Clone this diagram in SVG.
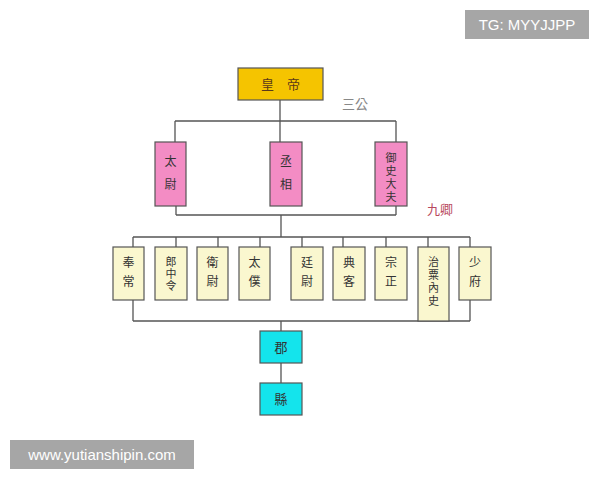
<svg xmlns="http://www.w3.org/2000/svg" width="600" height="480" viewBox="0 0 600 480">
<style>
.box{stroke:#555;stroke-width:1.2}
.gold{fill:#F5C400}
.pink{fill:#F38CC4}
.yel{fill:#FAF7CF}
.cyan{fill:#14E4EC}
.t{font-family:"Noto Sans CJK TC","Noto Sans CJK SC",sans-serif;font-size:12px;fill:#333;text-anchor:middle}
.s{font-size:11px}
.xs{font-size:10px}
.ln{stroke:#555;stroke-width:1.3;fill:none}
.wm{fill:#A6A6A6}
.wt{font-family:"Liberation Sans",Arial,sans-serif;font-size:15px;fill:#fff;text-anchor:middle}
</style>
<rect width="600" height="480" fill="#fff"/>
<g id="connectors">
<path class="ln" d="M280,100V121M175,121H396M175,121V142M280,121V142M396,121V142"/>
<path class="ln" d="M176,206V215M396,206V215M176,215H396M281,215V237M133,237H470"/>
<path class="ln" d="M133,237V247M176,237V247M218,237V247M260,237V247M302,237V247M343,237V247M386,237V247M428,237V247M470,237V247"/>
<path class="ln" d="M133,300V321M470,300V321M133,321H470M281,321V331M281,363V383"/>
</g>
<g id="emperor"><rect class="box gold" x="238" y="68" width="85" height="32"/><text class="t" x="280.5" y="89" style="fill:#5a3a1a;font-size:13px">皇　帝</text></g>
<text id="sangong" class="t" x="355" y="109" style="fill:#888;font-size:13px">三公</text>
<g id="taiwei"><rect class="box pink" x="155" y="142" width="31" height="64"/><text class="t" x="170.5" y="166">太</text><text class="t" x="170.5" y="189">尉</text></g>
<g id="chengxiang"><rect class="box pink" x="270" y="142" width="32" height="64"/><text class="t" x="286" y="166">丞</text><text class="t" x="286" y="189">相</text></g>
<g id="yushidafu"><rect class="box pink" x="375" y="142" width="32" height="64"/><text class="t s" x="391" y="162">御</text><text class="t s" x="391" y="175">史</text><text class="t s" x="391" y="188">大</text><text class="t s" x="391" y="201">夫</text></g>
<text id="jiuqing" class="t" x="440" y="214" style="fill:#B8485E;font-size:13px">九卿</text>
<g id="fengchang"><rect class="box yel" x="113" y="247" width="31" height="53"/><text class="t" x="128.5" y="267">奉</text><text class="t" x="128.5" y="286">常</text></g>
<g id="langzhongling"><rect class="box yel" x="155" y="247" width="32" height="53"/><text class="t s" x="171" y="266">郎</text><text class="t s" x="171" y="278">中</text><text class="t s" x="171" y="290">令</text></g>
<g id="weiwei"><rect class="box yel" x="197" y="247" width="31" height="53"/><text class="t" x="212.5" y="267">衛</text><text class="t" x="212.5" y="286">尉</text></g>
<g id="taipu"><rect class="box yel" x="239" y="247" width="31" height="53"/><text class="t" x="254.5" y="267">太</text><text class="t" x="254.5" y="286">僕</text></g>
<g id="tingwei"><rect class="box yel" x="291" y="247" width="32" height="53"/><text class="t" x="307" y="267">廷</text><text class="t" x="307" y="286">尉</text></g>
<g id="dianke"><rect class="box yel" x="333" y="247" width="32" height="53"/><text class="t" x="349" y="267">典</text><text class="t" x="349" y="286">客</text></g>
<g id="zongzheng"><rect class="box yel" x="375" y="247" width="32" height="53"/><text class="t" x="391" y="267">宗</text><text class="t" x="391" y="286">正</text></g>
<g id="zhisuneishi"><rect class="box yel" x="418" y="247" width="31" height="74"/><text class="t s" x="433.5" y="266">治</text><text class="t s" x="433.5" y="279">粟</text><text class="t s" x="433.5" y="292">內</text><text class="t s" x="433.5" y="305">史</text></g>
<g id="shaofu"><rect class="box yel" x="459" y="247" width="32" height="53"/><text class="t" x="475" y="267">少</text><text class="t" x="475" y="286">府</text></g>
<g id="jun"><rect class="box cyan" x="260" y="331" width="42" height="32"/><text class="t" x="281" y="352" style="font-size:13px">郡</text></g>
<g id="xian"><rect class="box cyan" x="260" y="383" width="42" height="32"/><text class="t" x="281" y="404" style="font-size:13px">縣</text></g>
<g id="wm1"><rect class="wm" x="465" y="10" width="124" height="29"/><text class="wt" x="527" y="30">TG: MYYJJPP</text></g>
<g id="wm2"><rect class="wm" x="10" y="440" width="184" height="29"/><text class="wt" x="102" y="460">www.yutianshipin.com</text></g>
</svg>
